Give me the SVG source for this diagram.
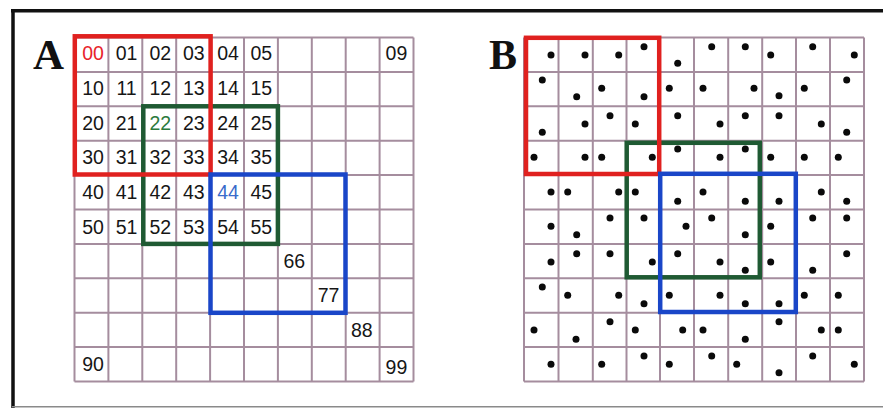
<svg xmlns="http://www.w3.org/2000/svg" width="883" height="408" viewBox="0 0 883 408">
<style>
.grid{fill:none;stroke:#a58d9e;stroke-width:2}
.lbl{font-family:"Liberation Sans",Arial,sans-serif;font-size:19.5px;fill:#161616;text-anchor:middle}
.panel{font-family:"Liberation Serif","Times New Roman",serif;font-size:43px;font-weight:bold;fill:#111}
.box{fill:none;stroke-width:4.5}
.red{stroke:#e0211f}
.green{stroke:#1f5a33}
.blue{stroke:#1a46c8}
.dot{fill:#0a0a0a}
</style>
<rect x="0" y="0" width="883" height="408" fill="#ffffff"/>
<g id="frame" fill="none">
<line x1="11" y1="10.8" x2="883" y2="10.8" stroke="#111" stroke-width="3.5"/>
<line x1="13" y1="9" x2="13" y2="408" stroke="#111" stroke-width="3.5"/>
<line x1="12" y1="406.8" x2="883" y2="406.8" stroke="#8a8a8a" stroke-width="1.6"/>
</g>
<g id="panelA">
<text class="panel" x="33" y="69">A</text>
<path class="grid" d="M74.5 37.5V381.5M108.4 37.5V381.5M142.3 37.5V381.5M176.2 37.5V381.5M210.1 37.5V381.5M244 37.5V381.5M277.9 37.5V381.5M311.8 37.5V381.5M345.7 37.5V381.5M379.6 37.5V381.5M413.5 37.5V381.5M74.5 37.5H413.5M74.5 71.9H413.5M74.5 106.3H413.5M74.5 140.7H413.5M74.5 175.1H413.5M74.5 209.5H413.5M74.5 243.9H413.5M74.5 278.3H413.5M74.5 312.7H413.5M74.5 347.1H413.5M74.5 381.5H413.5"/>
<g id="labelsA">
<text class="lbl" x="93" y="60" style="fill:#e8232b">00</text>
<text class="lbl" x="126.5" y="60">01</text>
<text class="lbl" x="160.3" y="60">02</text>
<text class="lbl" x="193.8" y="60">03</text>
<text class="lbl" x="228" y="60">04</text>
<text class="lbl" x="261.3" y="60">05</text>
<text class="lbl" x="396.4" y="60">09</text>
<text class="lbl" x="93" y="95">10</text>
<text class="lbl" x="126.5" y="95">11</text>
<text class="lbl" x="160.3" y="95">12</text>
<text class="lbl" x="193.8" y="95">13</text>
<text class="lbl" x="228" y="95">14</text>
<text class="lbl" x="261.3" y="95">15</text>
<text class="lbl" x="93" y="130">20</text>
<text class="lbl" x="126.5" y="130">21</text>
<text class="lbl" x="160.3" y="130" style="fill:#2c7a3c">22</text>
<text class="lbl" x="193.8" y="130">23</text>
<text class="lbl" x="228" y="130">24</text>
<text class="lbl" x="261.3" y="130">25</text>
<text class="lbl" x="93" y="163.5">30</text>
<text class="lbl" x="126.5" y="163.5">31</text>
<text class="lbl" x="160.3" y="163.5">32</text>
<text class="lbl" x="193.8" y="163.5">33</text>
<text class="lbl" x="228" y="163.5">34</text>
<text class="lbl" x="261.3" y="163.5">35</text>
<text class="lbl" x="93" y="199">40</text>
<text class="lbl" x="126.5" y="199">41</text>
<text class="lbl" x="160.3" y="199">42</text>
<text class="lbl" x="193.8" y="199">43</text>
<text class="lbl" x="228" y="199" style="fill:#3a6bcb">44</text>
<text class="lbl" x="261.3" y="199">45</text>
<text class="lbl" x="93" y="234">50</text>
<text class="lbl" x="126.5" y="234">51</text>
<text class="lbl" x="160.3" y="234">52</text>
<text class="lbl" x="193.8" y="234">53</text>
<text class="lbl" x="228" y="234">54</text>
<text class="lbl" x="261.3" y="234">55</text>
<text class="lbl" x="294.3" y="268">66</text>
<text class="lbl" x="328.5" y="301.5">77</text>
<text class="lbl" x="361.8" y="337">88</text>
<text class="lbl" x="93" y="371">90</text>
<text class="lbl" x="396.4" y="374">99</text>
</g>
<g id="boxesA">
<rect id="A-green" class="box green" x="143.3" y="106.3" width="134.6" height="137.6"/>
<rect id="A-red" class="box red" x="74.8" y="36.3" width="135.8" height="138.2"/>
<rect id="A-blue" class="box blue" x="210.5" y="174.5" width="135" height="138.3"/>
</g>
</g>
<g id="panelB">
<text class="panel" x="489" y="68.5" style="font-size:42px">B</text>
<path class="grid" d="M524 37.5V381.5M558.5 37.5V381.5M592.8 37.5V381.5M626.5 37.5V381.5M660 37.5V381.5M694 37.5V381.5M728.2 37.5V381.5M762.2 37.5V381.5M796 37.5V381.5M830 37.5V381.5M864 37.5V381.5M524 37.5H864M524 71.9H864M524 106.3H864M524 140.7H864M524 175.1H864M524 209.5H864M524 243.9H864M524 278.3H864M524 312.7H864M524 347.1H864M524 381.5H864"/>
<g id="dotsB" class="dot">
<circle cx="551" cy="55" r="3.5"/><circle cx="585" cy="55" r="3.5"/><circle cx="618.7" cy="55" r="3.5"/><circle cx="644" cy="46.7" r="3.5"/><circle cx="677.7" cy="63.3" r="3.5"/><circle cx="711.7" cy="46.7" r="3.5"/><circle cx="745.3" cy="46.7" r="3.5"/><circle cx="770.7" cy="55" r="3.5"/><circle cx="812.7" cy="46.7" r="3.5"/><circle cx="854.3" cy="55" r="3.5"/>
<circle cx="542.3" cy="80" r="3.5"/><circle cx="576.7" cy="96.7" r="3.5"/><circle cx="601.7" cy="88.3" r="3.5"/><circle cx="644" cy="96.7" r="3.5"/><circle cx="669.3" cy="88.3" r="3.5"/><circle cx="703" cy="88.3" r="3.5"/><circle cx="754" cy="88.3" r="3.5"/><circle cx="779" cy="95.7" r="3.5"/><circle cx="804.3" cy="88.3" r="3.5"/><circle cx="846.7" cy="80" r="3.5"/>
<circle cx="542.3" cy="132.3" r="3.5"/><circle cx="585" cy="124" r="3.5"/><circle cx="610" cy="115.7" r="3.5"/><circle cx="635.3" cy="124" r="3.5"/><circle cx="677.7" cy="115.7" r="3.5"/><circle cx="720" cy="124" r="3.5"/><circle cx="745.3" cy="115.7" r="3.5"/><circle cx="779" cy="115.7" r="3.5"/><circle cx="821.3" cy="124" r="3.5"/><circle cx="846.7" cy="132.3" r="3.5"/>
<circle cx="534" cy="157.3" r="3.5"/><circle cx="585" cy="157.3" r="3.5"/><circle cx="601.7" cy="157.3" r="3.5"/><circle cx="652.3" cy="157.3" r="3.5"/><circle cx="677.7" cy="149" r="3.5"/><circle cx="720" cy="157.3" r="3.5"/><circle cx="745.3" cy="149" r="3.5"/><circle cx="770.7" cy="157.3" r="3.5"/><circle cx="804.3" cy="157.3" r="3.5"/><circle cx="838.3" cy="157.3" r="3.5"/>
<circle cx="551" cy="192" r="3.5"/><circle cx="567.7" cy="192" r="3.5"/><circle cx="618.7" cy="192" r="3.5"/><circle cx="635.3" cy="192" r="3.5"/><circle cx="677.7" cy="201.3" r="3.5"/><circle cx="703" cy="192" r="3.5"/><circle cx="745.3" cy="201.3" r="3.5"/><circle cx="779" cy="201.3" r="3.5"/><circle cx="821.3" cy="192" r="3.5"/><circle cx="846.7" cy="201.3" r="3.5"/>
<circle cx="551" cy="226.3" r="3.5"/><circle cx="576.7" cy="234.7" r="3.5"/><circle cx="610" cy="218" r="3.5"/><circle cx="644" cy="218" r="3.5"/><circle cx="686" cy="226.3" r="3.5"/><circle cx="711.7" cy="218" r="3.5"/><circle cx="745.3" cy="234.7" r="3.5"/><circle cx="770.7" cy="226.3" r="3.5"/><circle cx="812.7" cy="218" r="3.5"/><circle cx="846.7" cy="218" r="3.5"/>
<circle cx="551" cy="262" r="3.5"/><circle cx="576.7" cy="253.7" r="3.5"/><circle cx="610" cy="253.7" r="3.5"/><circle cx="652.3" cy="262" r="3.5"/><circle cx="677.7" cy="253.7" r="3.5"/><circle cx="720" cy="262" r="3.5"/><circle cx="745.3" cy="270.3" r="3.5"/><circle cx="770.7" cy="262" r="3.5"/><circle cx="812.7" cy="270.3" r="3.5"/><circle cx="846.7" cy="253.7" r="3.5"/>
<circle cx="542.3" cy="287" r="3.5"/><circle cx="567.7" cy="295.3" r="3.5"/><circle cx="618.7" cy="295.3" r="3.5"/><circle cx="644" cy="303.7" r="3.5"/><circle cx="669.3" cy="295.3" r="3.5"/><circle cx="720" cy="295.3" r="3.5"/><circle cx="745.3" cy="303.7" r="3.5"/><circle cx="779" cy="303.7" r="3.5"/><circle cx="804.3" cy="295.3" r="3.5"/><circle cx="838.3" cy="295.3" r="3.5"/>
<circle cx="534" cy="330" r="3.5"/><circle cx="576" cy="339.3" r="3.5"/><circle cx="610" cy="321.7" r="3.5"/><circle cx="635.3" cy="330" r="3.5"/><circle cx="682.7" cy="330" r="3.5"/><circle cx="703" cy="330" r="3.5"/><circle cx="745.3" cy="339.3" r="3.5"/><circle cx="779" cy="321.7" r="3.5"/><circle cx="821.3" cy="330" r="3.5"/><circle cx="838.3" cy="330" r="3.5"/>
<circle cx="551" cy="364.3" r="3.5"/><circle cx="601.7" cy="364.3" r="3.5"/><circle cx="644" cy="356" r="3.5"/><circle cx="669.3" cy="364.3" r="3.5"/><circle cx="711.7" cy="356" r="3.5"/><circle cx="736.7" cy="364.3" r="3.5"/><circle cx="779" cy="372.7" r="3.5"/><circle cx="812.7" cy="356" r="3.5"/><circle cx="854.3" cy="364.3" r="3.5"/>
</g>
<g id="boxesB">
<rect id="B-green" class="box green" x="626.7" y="142.8" width="133.1" height="134.5"/>
<rect id="B-red" class="box red" x="526" y="37.8" width="133.2" height="136.2"/>
<rect id="B-blue" class="box blue" x="660.2" y="173.8" width="135.6" height="138.2"/>
</g>
</g>
</svg>
